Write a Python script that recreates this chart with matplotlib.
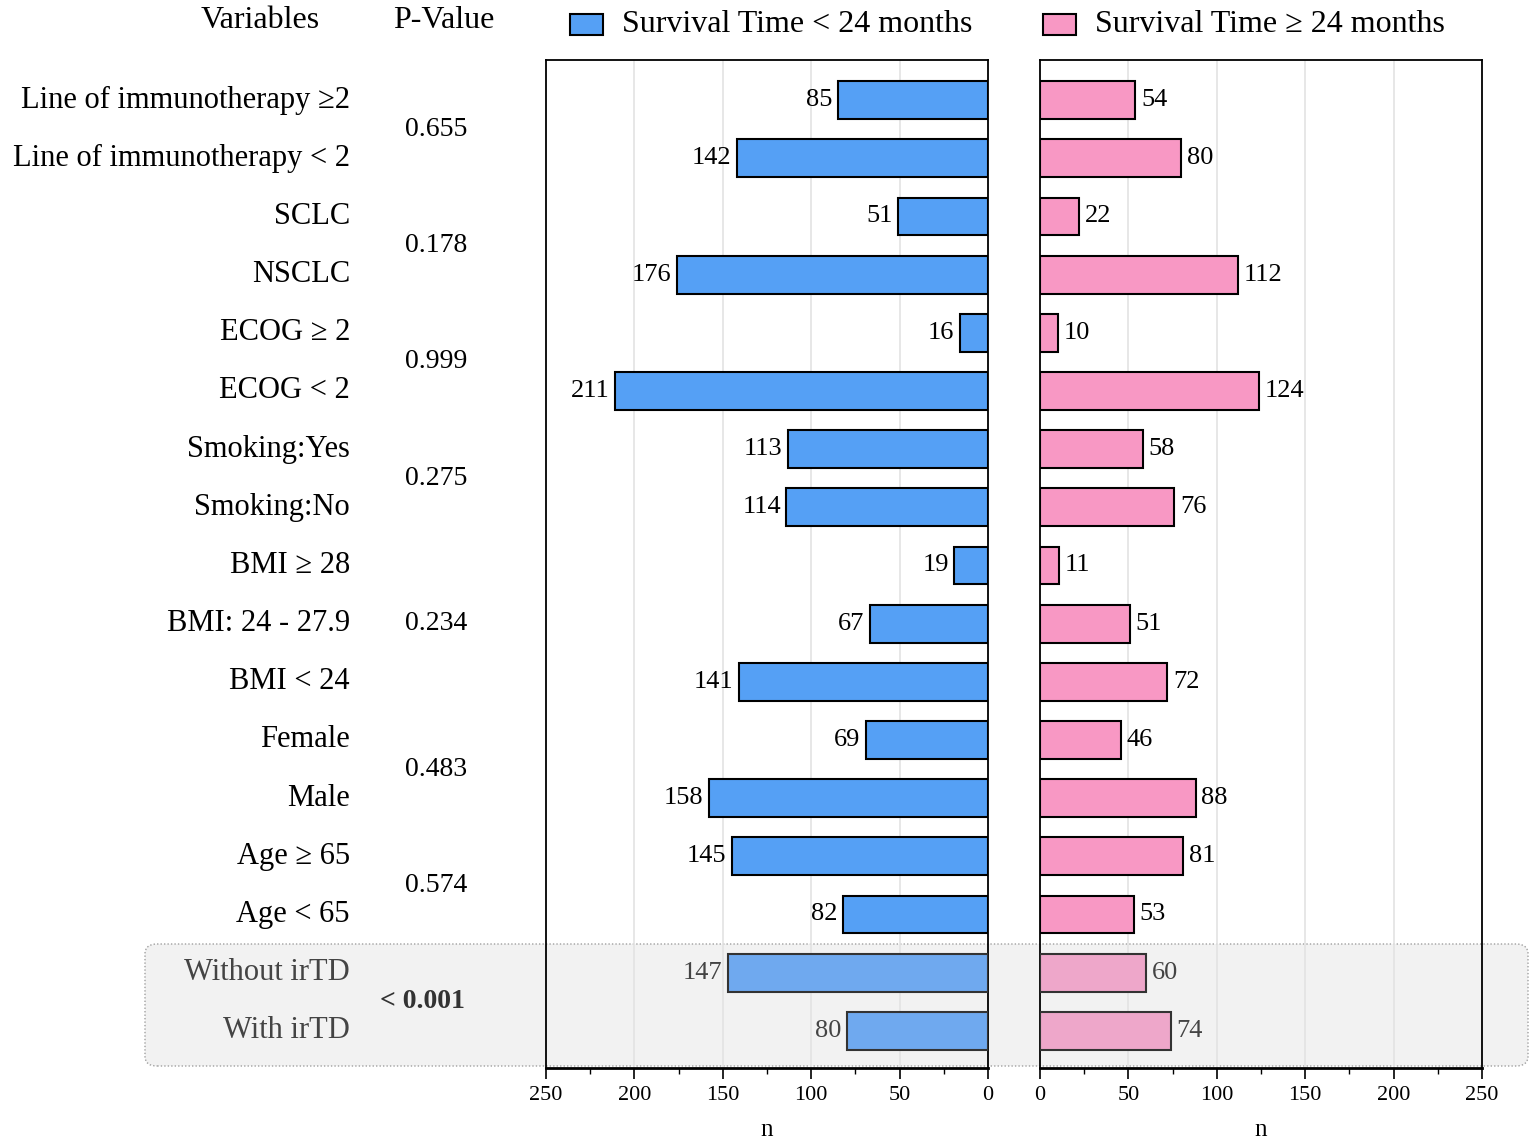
import matplotlib
matplotlib.use("Agg")
import matplotlib.pyplot as plt
from matplotlib.patches import FancyBboxPatch, Rectangle
from matplotlib.transforms import blended_transform_factory
from matplotlib.ticker import MultipleLocator

plt.rcParams['font.family'] = ['Liberation Serif', 'DejaVu Serif']

labels = ["Line of immunotherapy \u22652", "Line of immunotherapy < 2", "SCLC", "NSCLC",
          "ECOG \u2265 2", "ECOG < 2", "Smoking:Yes", "Smoking:No",
          "BMI \u2265 28", "BMI: 24 - 27.9", "BMI < 24", "Female", "Male",
          "Age \u2265 65", "Age < 65", "Without irTD", "With irTD"]
short_surv = [85, 142, 51, 176, 16, 211, 113, 114, 19, 67, 141, 69, 158, 145, 82, 147, 80]
long_surv = [54, 80, 22, 112, 10, 124, 58, 76, 11, 51, 72, 46, 88, 81, 53, 60, 74]
p_values = ["0.655", "0.178", "0.999", "0.275", "0.234", "0.483", "0.574", "< 0.001"]
p_groups = [(0, 1), (2, 3), (4, 5), (6, 7), (8, 10), (11, 12), (13, 14), (15, 16)]
highlight_rows = [15, 16]
x_ticks = [0, 50, 100, 150, 200, 250]

blue = "#55a0f5"
pink = "#f898c4"
blue_hl = "#6fa9ef"
pink_hl = "#eea7ca"

W, H = 1535, 1144
fig = plt.figure(figsize=(W / 100, H / 100), dpi=100)

def fx(px):
    return px / W

def fy(py):
    return 1 - py / H

ax_l = fig.add_axes([fx(546), fy(1068), fx(988) - fx(546), fy(60) - fy(1068)])
ax_r = fig.add_axes([fx(1040), fy(1068), fx(1482) - fx(1040), fy(60) - fy(1068)])

n = len(labels)
ys = list(range(n))
ylim = (n - 1 + 0.64, -0.69)

for ax, vals, col, colhl, side in [(ax_l, short_surv, blue, blue_hl, 'l'),
                                   (ax_r, long_surv, pink, pink_hl, 'r')]:
    ax.set_facecolor('none')
    cols = [colhl if i in highlight_rows else col for i in ys]
    ecs = ['#333333' if i in highlight_rows else 'black' for i in ys]
    ax.barh(ys, vals, height=0.65, color=cols, edgecolor=ecs, linewidth=1.5, zorder=3)
    ax.set_ylim(*ylim)
    ax.set_xlim(0, 250)
    if side == 'l':
        ax.invert_xaxis()
    ax.set_yticks([])
    ax.set_xticks(x_ticks)
    ax.xaxis.set_minor_locator(MultipleLocator(25))
    ax.tick_params(axis='x', which='major', length=8, width=1.2, labelsize=16, pad=5)
    ax.tick_params(axis='x', which='minor', length=4, width=1.0)
    for sp in ax.spines.values():
        sp.set_linewidth(1.3)
    ax.spines['bottom'].set_linewidth(2.0)
    for g in x_ticks[1:-1]:
        ax.axvline(g, color='#e3e3e3', lw=1.2, zorder=0)
    ax.set_xlabel('n', fontsize=18, labelpad=10)
    for i, v in zip(ys, vals):
        tc = '#444444' if i in highlight_rows else 'black'
        if side == 'l':
            ax.annotate(str(v), (v, i), xytext=(-4, 0), textcoords='offset points',
                        ha='right', va='center', fontsize=19, color=tc, zorder=4)
        else:
            ax.annotate(str(v), (v, i), xytext=(4, 0), textcoords='offset points',
                        ha='left', va='center', fontsize=19, color=tc, zorder=4)

# highlight box
box = FancyBboxPatch((fx(145), fy(1066)), fx(1528) - fx(145), fy(944) - fy(1066),
                     boxstyle="round,pad=0,rounding_size=0.008",
                     transform=fig.transFigure, facecolor='#f2f2f2',
                     edgecolor='#a0a0a0', linestyle=(0, (1, 1.5)), linewidth=1.0,
                     zorder=-5)
fig.add_artist(box)

# row labels
tr = blended_transform_factory(fig.transFigure, ax_l.transData)
for i, lab in enumerate(labels):
    tc = '#444444' if i in highlight_rows else 'black'
    fig.text(fx(350), i, lab, transform=tr, ha='right', va='center', fontsize=22, color=tc)

# p-values
for (a, b), p in zip(p_groups, p_values):
    bold = p.startswith('<')
    fig.text(fx(436) if not bold else fx(422), (a + b) / 2, p, transform=tr,
             ha='center', va='center', fontsize=20,
             fontweight='bold' if bold else 'normal',
             color='#333333' if bold else 'black')

# headers
fig.text(fx(260), fy(21), "Variables", ha='center', va='center', fontsize=23)
fig.text(fx(444), fy(21), "P-Value", ha='center', va='center', fontsize=23)

# legend
for x0, col, txt in [(570, blue, "Survival Time < 24 months"),
                     (1043, pink, "Survival Time \u2265 24 months")]:
    fig.add_artist(Rectangle((fx(x0), fy(35)), fx(33), fy(14) - fy(35),
                             transform=fig.transFigure, facecolor=col,
                             edgecolor='black', linewidth=1.5))
    fig.text(fx(x0 + 52), fy(25), txt, ha='left', va='center', fontsize=23)

fig.savefig("out.png", dpi=100)
